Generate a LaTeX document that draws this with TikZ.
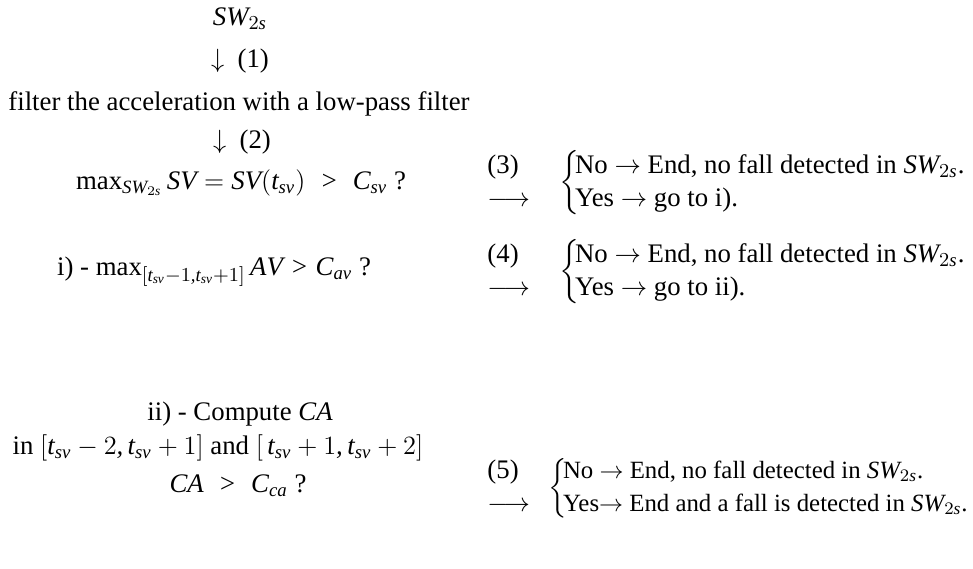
\documentclass[tikz,border=0pt]{standalone}
\usepackage{amsmath,amssymb}
\usepackage{fontspec}
\setmainfont{Liberation Serif}
% math letters from the text italic
\DeclareSymbolFont{letters}{TU}{\rmdefault}{m}{it}
\mathcode`\,="612C
\usetikzlibrary{positioning}
\tikzset{
  txt/.style={inner sep=0pt,font=\fontsize{12.2}{15}\selectfont},
  stepno/.style={txt,anchor=west},
  cas/.style={txt,anchor=west},
  small/.style={font=\fontsize{11.3}{15}\selectfont},
}
\newcommand{\twoways}[2]{$\left\{\mkern-3mu\begin{array}{@{}l@{}}\text{#1}\\ \text{#2}\end{array}\right.$}
\newcommand{\stepmark}[1]{$\begin{array}{@{}l@{}}\text{(#1)}\\ \longrightarrow\end{array}$}

\begin{document}
\begin{tikzpicture}[x=0.016cm,y=-0.016cm]
\useasboundingbox (0,0) rectangle (973,569);
% top of the chain
\node[txt] (sw) at (240,19) {$SW_{2s}$};
\node[txt] (down1) at (240,61) {$\downarrow$\ \ (1)};
\node[txt] (filt) at (239,104) {filter the acceleration with a low-pass filter};
\node[txt] (down2) at (242,142) {$\downarrow$\ \ (2)};
% first test
\node[txt] (test1) at (241,183) {$\max_{SW_{2s}} SV = SV(t_{sv})\;>\;C_{sv}$ ?};
\node[stepno] (step3) at (487,183) {\stepmark{3}};
\node[cas] (case3) at (559,183) {\twoways{No $\rightarrow$ End, no fall detected in $SW_{2s}$.}{Yes $\rightarrow$ go to i).}};
% second test
\node[txt] (test2) at (214,272) {i) - $\max_{[t_{sv}-1,t_{sv}+1]} AV > C_{av}$ ?};
\node[stepno] (step4) at (487,272) {\stepmark{4}};
\node[cas] (case4) at (559,272) {\twoways{No $\rightarrow$ End, no fall detected in $SW_{2s}$.}{Yes $\rightarrow$ go to ii).}};
% third test
\node[txt] (comp) at (240,414) {ii) - Compute $CA$};
\node[txt] (intv) at (218,448) {in $[t_{sv}-2, t_{sv}+1]$ and $[\,t_{sv}+1, t_{sv}+2]$};
\node[txt] (test3) at (238,486) {$CA\;>\;C_{ca}$ ?};
\node[stepno] (step5) at (487,488) {\stepmark{5}};
\node[cas,small] (case5) at (548,488) {\twoways{No $\rightarrow$ End, no fall detected in $SW_{2s}$.}{Yes$\rightarrow$ End and a fall is detected in $SW_{2s}$.}};
\end{tikzpicture}
\end{document}
